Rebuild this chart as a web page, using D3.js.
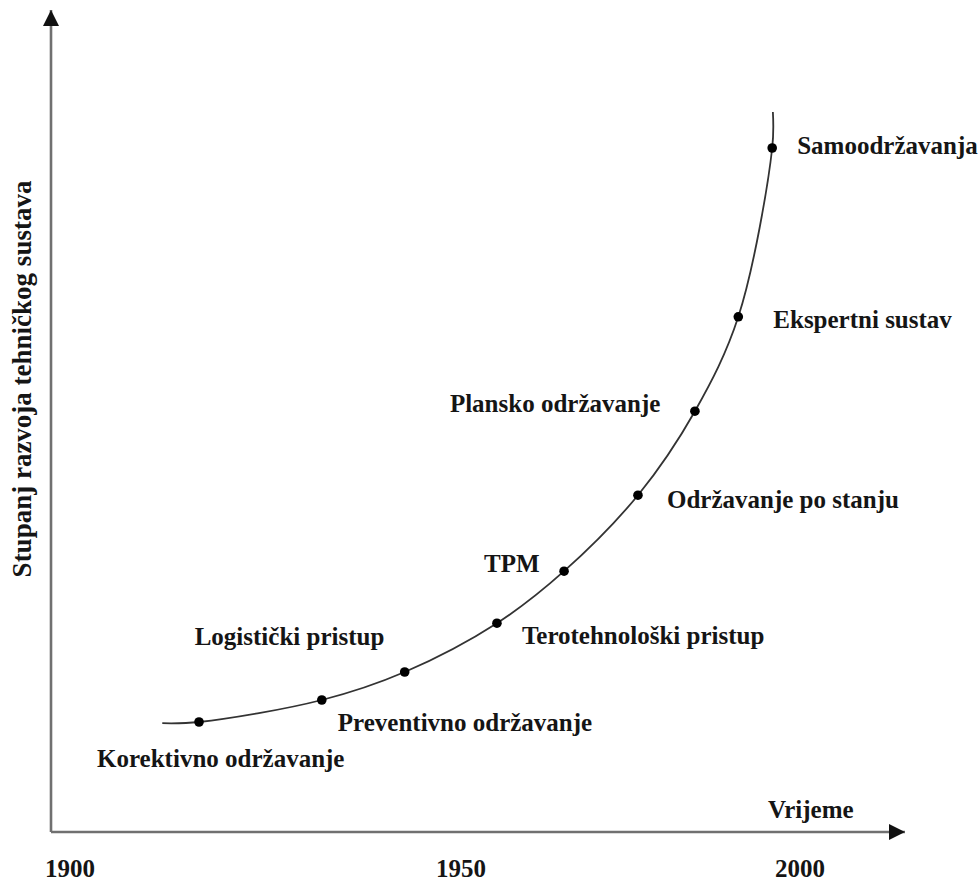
<!DOCTYPE html>
<html>
<head>
<meta charset="utf-8">
<script src="https://cdn.jsdelivr.net/npm/d3@7"></script>
<style>
  html, body { margin: 0; padding: 0; background: #fff; }
  svg text { font-family: "Liberation Serif", "DejaVu Serif", serif; font-weight: bold; fill: #151515; }
</style>
</head>
<body>
<svg id="chart" width="979" height="885"></svg>
<script>
// ---- data ----
const yearTicks = [1900, 1950, 2000];
const tickLabels = ["1900", "1950", "2000"];
const stageNames = [
  "Korektivno održavanje", "Preventivno održavanje", "Logistički pristup",
  "Terotehnološki pristup", "TPM", "Održavanje po stanju",
  "Plansko održavanje", "Ekspertni sustav", "Samoodržavanja"
];
const stageYears = [1916.5, 1932.2, 1942.8, 1955.3, 1965.2, 1976.1, 1984.5, 1990.9, 1995.9];
const stageLevels = [13.75, 16.5, 20.0, 26.1, 32.6, 42.1, 52.6, 64.4, 85.5];
const curveStart = { year: 1911.8, level: 13.6 };
const curveEnd = { year: 1996.0, level: 90.0 };
const xAxisTitle = "Vrijeme";
const yAxisTitle = "Stupanj razvoja tehničkog sustava";

// ---- layout ----
const svg = d3.select("#chart");
const x = d3.scaleLinear().domain(yearTicks).range([70, 461, 800]);
const y = d3.scaleLinear().domain([0, 100]).range([832, 32]);
const origin = { x: 51, y: 832 };

// label placement (offsets relative to the dot: dx, dy, anchor)
const labelPos = [
  { dx: -102, dy: 45 }, { dx: 16, dy: 31 }, { dx: -210, dy: -27 },
  { dx: 25, dy: 21 }, { dx: -80, dy: 1 }, { dx: 29, dy: 13 },
  { dx: -245, dy: 1 }, { dx: 35, dy: 11 }, { dx: 25, dy: 6 }
];

// arrow marker
const defs = svg.append("defs");
defs.append("marker")
  .attr("id", "arrow").attr("viewBox", "0 0 10 10")
  .attr("refX", 10).attr("refY", 5)
  .attr("markerWidth", 18).attr("markerHeight", 16)
  .attr("markerUnits", "userSpaceOnUse").attr("orient", "auto")
  .append("path").attr("d", "M0,0 L10,5 L0,10 Z").attr("fill", "#111");

// axes
svg.append("line")
  .attr("x1", origin.x).attr("y1", origin.y)
  .attr("x2", 905).attr("y2", origin.y)
  .attr("stroke", "#707070").attr("stroke-width", 2.6)
  .attr("marker-end", "url(#arrow)");
svg.append("line")
  .attr("x1", origin.x).attr("y1", origin.y)
  .attr("x2", origin.x).attr("y2", 10)
  .attr("stroke", "#707070").attr("stroke-width", 2.6)
  .attr("marker-end", "url(#arrow)");

// tick labels
svg.selectAll(".tick").data(yearTicks).enter().append("text")
  .attr("x", d => x(d)).attr("y", 877)
  .attr("text-anchor", "middle")
  .style("font-size", "25px")
  .text((d, i) => tickLabels[i]);

// axis titles
svg.append("text").attr("x", 768).attr("y", 818)
  .style("font-size", "25px").text(xAxisTitle);
svg.append("text")
  .attr("transform", "translate(31,379) rotate(-90)")
  .attr("text-anchor", "middle")
  .style("font-size", "27px").text(yAxisTitle);

// curve
const stages = stageNames.map((n, i) => ({ name: n, year: stageYears[i], level: stageLevels[i] }));
const curvePts = [curveStart, ...stages, curveEnd];
const line = d3.line().x(d => x(d.year)).y(d => y(d.level)).curve(d3.curveCatmullRom.alpha(0.5));
svg.append("path").datum(curvePts)
  .attr("d", line).attr("fill", "none")
  .attr("stroke", "#333").attr("stroke-width", 1.8);

// dots
svg.selectAll(".dot").data(stages).enter().append("circle")
  .attr("cx", d => x(d.year)).attr("cy", d => y(d.level))
  .attr("r", 4.8).attr("fill", "#000");

// labels
svg.selectAll(".lbl").data(stages).enter().append("text")
  .attr("x", (d, i) => x(d.year) + labelPos[i].dx)
  .attr("y", (d, i) => y(d.level) + labelPos[i].dy)
  .style("font-size", "25px")
  .text(d => d.name);
</script>
</body>
</html>
